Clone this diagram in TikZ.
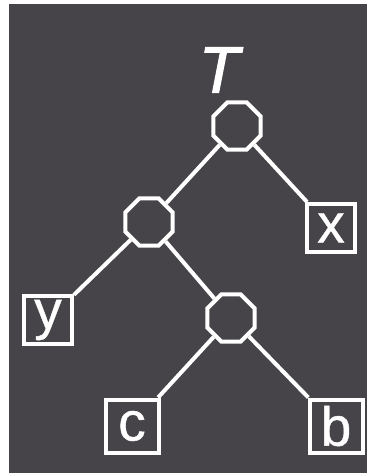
\documentclass[tikz,border=0pt]{standalone}
\usepackage{fontspec}
\setmainfont{Liberation Sans}
\newfontfamily\heavy[FakeBold=1.6]{Liberation Sans}
\newfontfamily\medium[FakeBold=0.7]{Liberation Sans}
\usetikzlibrary{shapes.geometric}
\definecolor{board}{RGB}{70,68,72}
\tikzset{
  inner/.style={regular polygon, regular polygon sides=8, minimum size=51pt, inner sep=0pt, draw=white, line width=4pt},
  leaf/.style={rectangle, minimum size=48pt, inner sep=0pt, draw=white, line width=4pt, text=white, font=\medium\fontsize{55}{55}\selectfont},
  edge/.style={draw=white, line width=4pt}
}
\begin{document}
\begin{tikzpicture}[x=1pt,y=-1pt]
\useasboundingbox (0,0) rectangle (374,476);
\fill[board] (9,4) rectangle (367,473);
\node[text=white, font=\heavy\fontsize{66}{66}\selectfont\itshape] (tl) at (219,70) {T};
\node[inner] (r) at (237,126) {};
\node[inner] (l) at (149,222) {};
\node[inner] (m) at (231,318) {};
\node[leaf] (x) at (331,228) {x};
\node[leaf] (y) at (48,320) {y};
\node[leaf, minimum size=53pt] (c) at (132,426) {c};
\node[leaf, minimum size=53pt] (b) at (336,426) {b};
\draw[edge] (r) -- (l);
\draw[edge] (r) -- (x);
\draw[edge] (l) -- (y);
\draw[edge] (l) -- (m);
\draw[edge] (m) -- (c);
\draw[edge] (m) -- (b);
\end{tikzpicture}
\end{document}
